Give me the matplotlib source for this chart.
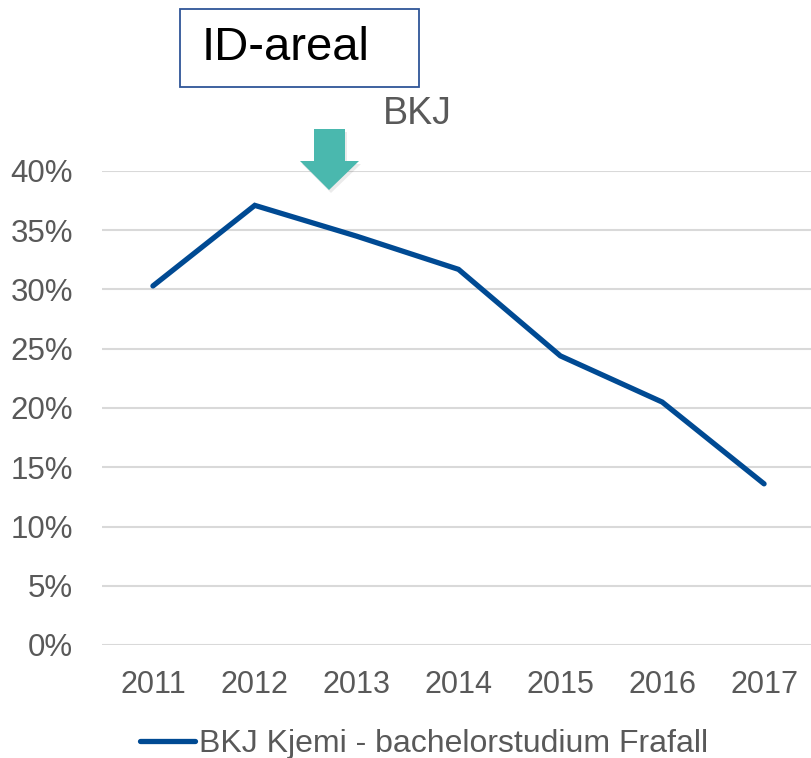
import matplotlib
matplotlib.use("Agg")
import matplotlib.pyplot as plt
from matplotlib.patches import Polygon, Rectangle

plt.rcParams['font.family'] = ['Liberation Sans', 'DejaVu Sans']

years = ["2011", "2012", "2013", "2014", "2015", "2016", "2017"]
frafall = [0.303, 0.371, 0.345, 0.317, 0.244, 0.205, 0.136]
series_label = "BKJ Kjemi - bachelorstudium Frafall"
yticks = [0, 0.05, 0.10, 0.15, 0.20, 0.25, 0.30, 0.35, 0.40]
ytick_labels = ["0%", "5%", "10%", "15%", "20%", "25%", "30%", "35%", "40%"]

W, H = 812, 758
fig = plt.figure(figsize=(W / 100, H / 100), dpi=100)

def px(x0, y0, x1, y1):
    return [x0 / W, 1 - y1 / H, (x1 - x0) / W, (y1 - y0) / H]

ax = fig.add_axes(px(102, 171, 815, 645))
ax.set_xlim(-0.5, len(years) - 0.5)
ax.set_ylim(0, 0.40)
ax.set_yticks(yticks)
ax.set_yticklabels(ytick_labels)
ax.set_xticks(range(len(years)))
ax.set_xticklabels(years)
ax.grid(axis='y', color='#D9D9D9', linewidth=1.5)
ax.set_axisbelow(True)
for s in ax.spines.values():
    s.set_visible(False)
ax.tick_params(axis='y', length=0, labelsize=22.5, labelcolor='#595959', pad=21)
ax.tick_params(axis='x', length=0, labelsize=22, labelcolor='#595959', pad=18)

line, = ax.plot(range(len(years)), frafall, color='#004A93', linewidth=3.8,
                solid_capstyle='round', solid_joinstyle='miter', label=series_label)
ax.patch.set_alpha(0)

# legend
fig.legend(handles=[line], labels=[series_label], loc='center',
           bbox_to_anchor=(424 / W, 1 - 744 / H),
           frameon=False, fontsize=23, labelcolor='#595959', handlelength=1.7,
           handletextpad=0.12, borderpad=0, borderaxespad=0)

# ID-areal box
fig.patches.append(Rectangle((180 / W, 1 - 87 / H), (419 - 180) / W, (87 - 9) / H,
                             transform=fig.transFigure, facecolor='white',
                             edgecolor='#2F5597', linewidth=1.3))
fig.text(202 / W, 1 - 48 / H, "ID-areal", fontsize=34, color='black', va='center', ha='left')

# BKJ label
fig.text(383 / W, 1 - 114 / H, "BKJ", fontsize=27, color='#595959', va='center', ha='left')

# arrow
arrow_pts = [(314, 129), (345, 129), (345, 161), (359, 161), (329, 190), (300, 161), (314, 161)]
shadow = Polygon([((x + 2) / W, 1 - (y + 3) / H) for x, y in arrow_pts], closed=True,
                 transform=fig.transFigure, facecolor='#000000', alpha=0.08, edgecolor='none')
fig.patches.append(shadow)
arrow = Polygon([(x / W, 1 - y / H) for x, y in arrow_pts], closed=True,
                transform=fig.transFigure, facecolor='#4AB8AE', edgecolor='none')
fig.patches.append(arrow)

fig.savefig("out.png", dpi=100)
